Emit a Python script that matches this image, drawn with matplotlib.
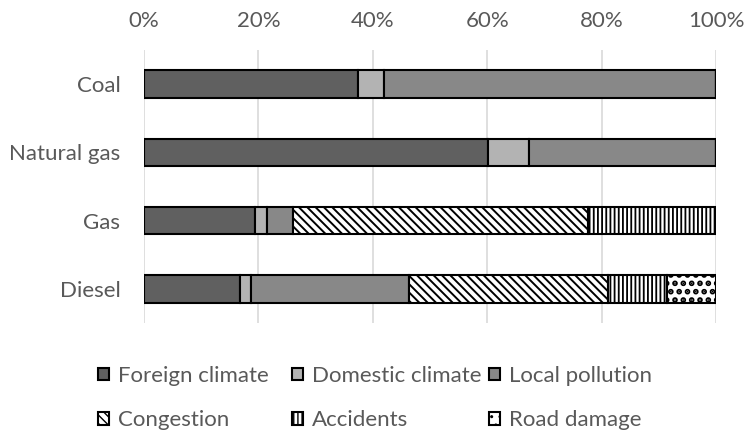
import matplotlib
matplotlib.use("Agg")
import matplotlib.pyplot as plt
from matplotlib.ticker import PercentFormatter

plt.rcParams['font.family'] = ['Lato', 'DejaVu Sans']

# shares of external cost (%)
fuels = ['Coal', 'Natural gas', 'Gas', 'Diesel']
foreign_climate = [37.5, 60.2, 19.4, 16.7]
domestic_climate = [4.4, 7.1, 2.1, 2.0]
local_pollution = [58.1, 32.7, 4.6, 27.7]
congestion = [0, 0, 51.5, 34.7]
accidents = [0, 0, 22.4, 10.4]
road_damage = [0, 0, 0, 8.5]

# name, values, fill, hatch, hatch line width
series = [
    ('Foreign climate', foreign_climate, '#606060', None, 1.0),
    ('Domestic climate', domestic_climate, '#b3b3b3', None, 1.0),
    ('Local pollution', local_pollution, '#888888', None, 1.0),
    ('Congestion', congestion, 'white', '\\\\\\\\', 1.4),
    ('Accidents', accidents, 'white', '||||', 1.3),
    ('Road damage', road_damage, 'white', '..', 2.8),
]

text_col = '#595959'
fs = 16

fig = plt.figure(figsize=(7.45, 4.36), dpi=100)
ax = fig.add_axes([144 / 745, 113 / 436, 572 / 745, 273 / 436])

y = list(range(len(fuels)))
left = [0] * len(fuels)
handles = {}
for name, vals, col, hatch, hlw in series:
    with plt.rc_context({'hatch.linewidth': hlw}):
        b = ax.barh(y, vals, left=left, height=0.4, color=col, edgecolor='black',
                    linewidth=1.5, hatch=hatch, label=name, zorder=3)
    handles[name] = b
    left = [l + v for l, v in zip(left, vals)]

ax.set_xlim(0, 100)
ax.set_ylim(3.5, -0.5)
ax.set_yticks(y)
ax.set_yticklabels(fuels)
ax.set_xticks(range(0, 101, 20))
ax.xaxis.set_major_formatter(PercentFormatter(decimals=0))
ax.xaxis.tick_top()
ax.tick_params(length=0, labelsize=fs, colors=text_col)
ax.tick_params(axis='x', pad=14)
ax.tick_params(axis='y', pad=17)
ax.grid(axis='x', color='#d9d9d9', linewidth=1.2, zorder=0)
for s in ax.spines.values():
    s.set_visible(False)

# legend: three fixed-width columns, two rows
columns = [('Foreign climate', 'Congestion'),
           ('Domestic climate', 'Accidents'),
           ('Local pollution', 'Road damage')]
col_x = [98, 292, 489]
for names, x0 in zip(columns, col_x):
    fig.legend([handles[n] for n in names], names, loc='upper left',
               bbox_to_anchor=(x0 / 745, 1 - 366 / 436), borderaxespad=0,
               borderpad=0, frameon=False, fontsize=fs, handlelength=0.5,
               handleheight=0.5, handletextpad=0.4, labelspacing=1.1,
               labelcolor=text_col)

fig.savefig('out.png', dpi=100)
